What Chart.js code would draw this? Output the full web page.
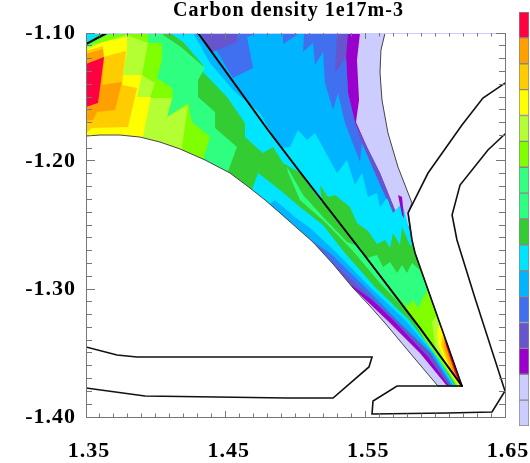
<!DOCTYPE html>
<html><head><meta charset="utf-8">
<style>html,body{margin:0;padding:0;background:#fff;overflow:hidden}
#main{position:absolute;left:0;top:0}#bar{position:absolute;left:518px;top:11px}</style>
<script src="https://cdn.jsdelivr.net/npm/chart.js@4"></script></head>
<body><canvas id="main" width="530" height="463"></canvas><canvas id="bar" width="12" height="416"></canvas>
<script>
const titleText = "Carbon density 1e17m-3";
const xRange = [1.35, 1.65];
const yRange = [-1.40, -1.10];
const levelColors = ["#CCCCFF","#CCCCFF","#9900CC","#6655CC","#4070F0","#00B4FF","#00E5FF","#33CC33","#2EFF80","#33FF80","#80FF00","#B4FF33","#FFFF00","#FFCC00","#FFA000","#FF0040"];

const lavender = [[1.35,-1.10],[1.5677,-1.10],[1.5891,-1.2617],[1.6214,-1.3773],[1.35,-1.3773]];
const purple = [[1.35,-1.10],[1.5462,-1.10],[1.5440,-1.1211],[1.5455,-1.1523],[1.5433,-1.1695],[1.5512,-1.1891],[1.5605,-1.2094],[1.5712,-1.2383],[1.5891,-1.2617],[1.6214,-1.3773],[1.6085,-1.3758],[1.5891,-1.35],[1.5662,-1.325],[1.5412,-1.2992],[1.5319,-1.3086],[1.35,-1.3086]];
const slate = [[1.35,-1.10],[1.5376,-1.10],[1.5362,-1.1188],[1.5376,-1.1469],[1.5426,-1.1695],[1.5512,-1.1891],[1.5605,-1.2094],[1.5712,-1.2383],[1.5891,-1.2617],[1.6214,-1.3773],[1.6099,-1.3758],[1.5949,-1.3531],[1.5698,-1.3242],[1.5548,-1.3086],[1.5369,-1.2945],[1.5247,-1.3047],[1.35,-1.3047]];
const royal = [[1.35,-1.10],[1.5297,-1.10],[1.5283,-1.1313],[1.5362,-1.1188],[1.5376,-1.1469],[1.5426,-1.1703],[1.5483,-1.1891],[1.5584,-1.2125],[1.5698,-1.2406],[1.5891,-1.2617],[1.6214,-1.3773],[1.6110,-1.3758],[1.5963,-1.35],[1.5712,-1.3242],[1.5455,-1.2984],[1.5340,-1.2867],[1.5226,-1.2758],[1.5104,-1.2852],[1.35,-1.2852]];
const sky = [[1.35,-1.10],[1.5061,-1.10],[1.5054,-1.1148],[1.5125,-1.1078],[1.5140,-1.1250],[1.5197,-1.1148],[1.5211,-1.1391],[1.5269,-1.1602],[1.5304,-1.1469],[1.5354,-1.1703],[1.5462,-1.2008],[1.5476,-1.1859],[1.5605,-1.2188],[1.5698,-1.2406],[1.5891,-1.2617],[1.6214,-1.3773],[1.6121,-1.3758],[1.5970,-1.35],[1.5727,-1.3242],[1.5498,-1.2984],[1.5247,-1.2719],[1.5090,-1.2602],[1.4996,-1.2695],[1.35,-1.2695]];
const cyan = [[1.35,-1.10],[1.4266,-1.10],[1.4388,-1.1234],[1.4552,-1.1445],[1.4746,-1.1625],[1.4853,-1.1836],[1.4903,-1.1898],[1.4961,-1.1891],[1.5018,-1.1758],[1.5082,-1.1836],[1.5140,-1.1781],[1.5297,-1.2094],[1.5369,-1.1992],[1.5426,-1.2188],[1.5476,-1.2094],[1.5519,-1.2281],[1.5584,-1.2250],[1.5605,-1.2359],[1.5655,-1.2289],[1.5698,-1.2406],[1.5763,-1.2328],[1.5820,-1.2555],[1.5891,-1.2617],[1.6214,-1.3773],[1.6132,-1.3758],[1.5985,-1.35],[1.5784,-1.3242],[1.5533,-1.2984],[1.5297,-1.2719],[1.5104,-1.2523],[1.4996,-1.2438],[1.4853,-1.2305],[1.4760,-1.2383],[1.35,-1.2383]];
const green = [[1.35,-1.1078],[1.36,-1.1008],[1.4101,-1.10],[1.4195,-1.1070],[1.4338,-1.1250],[1.4338,-1.1305],[1.4510,-1.15],[1.4638,-1.1703],[1.4638,-1.1813],[1.4767,-1.1938],[1.4839,-1.1891],[1.4911,-1.2016],[1.5032,-1.2094],[1.5190,-1.2328],[1.5175,-1.2188],[1.5233,-1.2281],[1.5283,-1.2266],[1.5390,-1.2359],[1.5440,-1.2484],[1.5519,-1.2547],[1.5584,-1.2648],[1.5641,-1.2617],[1.5677,-1.2680],[1.5698,-1.2563],[1.5748,-1.2656],[1.5763,-1.2516],[1.5820,-1.2656],[1.5891,-1.2695],[1.6214,-1.3773],[1.6142,-1.3758],[1.5999,-1.35],[1.5813,-1.3242],[1.5569,-1.2984],[1.5354,-1.2719],[1.5197,-1.25],[1.5032,-1.2359],[1.4889,-1.2227],[1.4732,-1.2094],[1.4674,-1.2266],[1.35,-1.2266]];
const springLeft = [[1.35,-1.1086],[1.365,-1.1008],[1.4051,-1.10],[1.4051,-1.1016],[1.4180,-1.1109],[1.4352,-1.1273],[1.4302,-1.1367],[1.4302,-1.15],[1.4424,-1.1617],[1.4424,-1.1742],[1.4581,-1.1891],[1.4510,-1.2102],[1.4460,-1.2227],[1.35,-1.2227]];
const springRight = [[1.4939,-1.2047],[1.5054,-1.2266],[1.5197,-1.2438],[1.5369,-1.2633],[1.5462,-1.2672],[1.5512,-1.2758],[1.5584,-1.2734],[1.5627,-1.2828],[1.5677,-1.2789],[1.5727,-1.2875],[1.5763,-1.2813],[1.5798,-1.2875],[1.5834,-1.2797],[1.5891,-1.2852],[1.6214,-1.3773],[1.6149,-1.3758],[1.6020,-1.35],[1.5856,-1.3242],[1.5605,-1.2953],[1.5405,-1.2695],[1.5211,-1.2477],[1.5032,-1.2305],[1.4946,-1.2086]];
const limeLeft = [[1.35,-1.1109],[1.365,-1.1016],[1.3944,-1.10],[1.3944,-1.1078],[1.4044,-1.1078],[1.4044,-1.1211],[1.4008,-1.1352],[1.4116,-1.1430],[1.4123,-1.15],[1.4080,-1.1656],[1.4230,-1.1547],[1.4259,-1.1695],[1.4388,-1.1813],[1.4338,-1.1992],[1.4280,-1.2109],[1.35,-1.2109]];
const limeTip = [[1.5770,-1.3063],[1.5806,-1.3133],[1.5841,-1.3086],[1.5877,-1.3148],[1.5913,-1.3070],[1.5949,-1.3008],[1.6035,-1.3086],[1.6214,-1.3773],[1.6156,-1.3758],[1.6020,-1.3539],[1.5927,-1.3398],[1.5806,-1.3180]];
const olive = [[1.35,-1.1109],[1.3622,-1.1070],[1.3794,-1.1016],[1.3944,-1.1078],[1.3901,-1.1328],[1.3994,-1.1391],[1.3958,-1.1508],[1.4116,-1.1508],[1.4080,-1.1656],[1.4230,-1.1563],[1.4187,-1.1891],[1.4209,-1.2031],[1.35,-1.2031]];
const oliveTip = [[1.6164,-1.3758],[1.6063,-1.3586],[1.5999,-1.3438],[1.5977,-1.3258],[1.6006,-1.3211],[1.6214,-1.3773]];
const yellow = [[1.35,-1.1133],[1.3622,-1.1070],[1.3794,-1.1031],[1.3794,-1.1133],[1.3765,-1.1328],[1.3901,-1.1328],[1.3865,-1.15],[1.3965,-1.15],[1.3908,-1.1813],[1.3922,-1.1992],[1.35,-1.1992]];
const yellowTip = [[1.6171,-1.3758],[1.6085,-1.3609],[1.6020,-1.3422],[1.6013,-1.3320],[1.6035,-1.3281],[1.6214,-1.3773]];
const gold = [[1.35,-1.1141],[1.3622,-1.1102],[1.3622,-1.1188],[1.3786,-1.1141],[1.3765,-1.1328],[1.3758,-1.1406],[1.3865,-1.1430],[1.3801,-1.1734],[1.3543,-1.1742],[1.35,-1.1781]];
const goldTip = [[1.6178,-1.3758],[1.6113,-1.3648],[1.6042,-1.3438],[1.6056,-1.3344],[1.6214,-1.3773]];
const orange = [[1.35,-1.1164],[1.3622,-1.1125],[1.3629,-1.1195],[1.3615,-1.1406],[1.3758,-1.1383],[1.3708,-1.1602],[1.3579,-1.1617],[1.3550,-1.1680],[1.35,-1.1688]];
const orangeTip = [[1.6182,-1.3758],[1.6128,-1.3656],[1.6063,-1.3453],[1.6063,-1.3359],[1.6214,-1.3773]];
const red = [[1.35,-1.1242],[1.3629,-1.1188],[1.3586,-1.1547],[1.35,-1.1578]];
const redTip = [[1.6185,-1.3758],[1.6142,-1.3656],[1.6078,-1.3445],[1.6063,-1.3367],[1.6214,-1.3773]];
const royalPatch = [[1.4424,-1.1117],[1.4581,-1.10],[1.4724,-1.10],[1.4653,-1.1031],[1.4696,-1.1273],[1.4552,-1.1352]];
const slatePatch = [[1.4316,-1.10],[1.4581,-1.10],[1.4581,-1.1070],[1.4402,-1.1148]];
const royalCorner = [[1.4911,-1.10],[1.5032,-1.10],[1.4911,-1.1086]];
const purpleSliver = [[1.5734,-1.2266],[1.5763,-1.2281],[1.5777,-1.2445],[1.5763,-1.2422]];
const outside = [[1.35,-1.1805],[1.36,-1.1797],[1.3743,-1.1797],[1.3887,-1.1813],[1.4030,-1.1852],[1.4173,-1.1906],[1.4352,-1.1992],[1.4531,-1.2094],[1.4674,-1.2211],[1.4782,-1.2305],[1.4889,-1.2406],[1.5003,-1.2516],[1.5125,-1.2633],[1.5269,-1.2805],[1.5412,-1.2992],[1.5526,-1.3125],[1.5641,-1.3266],[1.5820,-1.35],[1.6020,-1.3758],[1.6192,-1.3758],[1.5856,-1.2719],[1.5834,-1.2617],[1.5806,-1.2406],[1.5834,-1.2328],[1.5734,-1.2047],[1.5662,-1.1781],[1.5619,-1.1523],[1.5605,-1.1305],[1.5612,-1.1133],[1.5641,-1.10],[1.65,-1.10],[1.65,-1.40],[1.35,-1.40]];

const separatrix = [[1.4302,-1.10],[1.4803,-1.1758],[1.5032,-1.2086],[1.5476,-1.2711],[1.5891,-1.3305],[1.6192,-1.3758]];
const cornerLine = [[1.35,-1.1086],[1.365,-1.10]];
const wallRight = [[1.65,-1.1391],[1.6342,-1.1508],[1.6192,-1.1719],[1.5949,-1.2094],[1.5806,-1.2406],[1.5834,-1.2617],[1.5856,-1.2719],[1.6192,-1.3758],[1.5727,-1.3758],[1.5555,-1.3875],[1.5548,-1.3977],[1.6085,-1.3969],[1.6407,-1.3961],[1.65,-1.3797],[1.6285,-1.3070],[1.6156,-1.2617],[1.6121,-1.2422],[1.6178,-1.2188],[1.6378,-1.1914],[1.65,-1.1789]];
const wallLower = [[1.35,-1.3453],[1.3722,-1.3516],[1.3865,-1.3531],[1.5548,-1.3531],[1.5526,-1.3609],[1.5269,-1.3852],[1.4939,-1.3852],[1.3922,-1.3836],[1.35,-1.3773]];
const domeEdge = outside.slice(0,19);
const outerEdge = outside.slice(18,30);

const fills = [[lavender,"#CCCCFF"],[purple,"#9900CC"],[slate,"#6655CC"],[royal,"#4070F0"],[sky,"#00B4FF"],[cyan,"#00E5FF"],[green,"#33CC33"],[springLeft,"#2EFF80"],[springRight,"#2EFF80"],[limeLeft,"#80FF00"],[limeTip,"#80FF00"],[olive,"#B4FF33"],[oliveTip,"#B4FF33"],[yellow,"#FFFF00"],[yellowTip,"#FFFF00"],[gold,"#FFCC00"],[goldTip,"#FFCC00"],[orange,"#FFA000"],[orangeTip,"#FFA000"],[red,"#FF0040"],[redTip,"#FF0040"],[royalPatch,"#4070F0"],[slatePatch,"#6655CC"],[royalCorner,"#4070F0"],[purpleSliver,"#9900CC"],[outside,"#FFFFFF"]];
const strokes = [[domeEdge,"#444444",1],[outerEdge,"#444444",1],[wallRight,"#111111",1.6],[wallLower,"#111111",1.6],[cornerLine,"#000000",2],[separatrix,"#000000",2]];

const pts = a => a.map(p => ({x:p[0], y:p[1]}));
const total = fills.length + strokes.length;
const datasets = [];
fills.forEach((f,i) => datasets.push({data:pts(f[0]),backgroundColor:f[1],borderWidth:0,fill:'shape',pointRadius:0,tension:0,order:total-i}));
strokes.forEach((s,i) => datasets.push({data:pts(s[0]),borderColor:s[1],borderWidth:s[2],fill:false,pointRadius:0,tension:0,borderCapStyle:'round',order:strokes.length-i}));

const tickFont = {family:"'Liberation Serif'",size:22,weight:'bold'};
function axis(pos, range, step, len, show, size, color, weight){
  const horiz = pos==='bottom'||pos==='top';
  return {type:'linear',position:pos,min:range[0],max:range[1],weight,
    grid:{drawOnChartArea:false,drawTicks:true,tickLength:-len,tickColor:'#777',tickWidth:1},
    border:{display:!!color,color:color||'#777',width:1},
    ticks:{display:show,stepSize:step,autoSkip:false,maxRotation:0,minRotation:0,color:'#000',font:tickFont,
      padding:horiz?(len+21):(len+10),labelOffset:horiz?3:0,callback:v=>show?(+v).toFixed(2):''},
    afterFit(s){ if(horiz) s.height=size; else s.width=size; s.paddingLeft=s.paddingRight=s.paddingTop=s.paddingBottom=0; }};
}
new Chart(document.getElementById('main'),{
  type:'line',
  data:{datasets},
  options:{responsive:false,animation:false,events:[],
    layout:{autoPadding:false,padding:{right:25}},
    plugins:{legend:{display:false},tooltip:{enabled:false},
      title:{display:true,text:titleText,color:'#000',font:{family:"'Liberation Serif'",size:20,weight:'bold',lineHeight:1.2},padding:{top:0,bottom:9}}},
    scales:{
      x:axis('bottom',xRange,0.1,6,true,46,'#777',1),
      xMinor:axis('bottom',xRange,0.01,3.5,false,0,null,0),
      xTop:axis('top',xRange,0.1,6,false,0,'#CCCCFF',1),
      xTopMinor:axis('top',xRange,0.01,3.5,false,0,null,0),
      y:axis('left',yRange,0.1,9,true,86,'#777',1),
      yMinor:axis('left',yRange,0.01,6,false,0,null,0),
      yRight:axis('right',yRange,0.1,9,false,0,'#777',1),
      yRightMinor:axis('right',yRange,0.01,6,false,0,null,0)
    }},
  plugins:[{id:'place',
    afterLayout(c){ c.titleBlock.left=47; c.titleBlock.right=530; c.titleBlock.top=-1.5; },
    beforeDraw(c){ c.ctx.letterSpacing='1px'; },
    afterDatasetsDraw(c){ Object.values(c.scales).forEach(s=>{ s.drawGrid(c.chartArea); s.drawBorder(); }); }}]
});

new Chart(document.getElementById('bar'),{
  type:'bar',
  data:{labels:[''],datasets:levelColors.map(c=>({data:[1],backgroundColor:c,borderColor:'#888',borderWidth:1,borderSkipped:false,barPercentage:1,categoryPercentage:1,stack:'s'}))},
  options:{responsive:false,animation:false,events:[],
    layout:{autoPadding:false,padding:{left:1,right:1,top:1,bottom:1}},
    plugins:{legend:{display:false},tooltip:{enabled:false},title:{display:false}},
    scales:{x:{display:false,stacked:true},y:{display:false,stacked:true,min:0,max:levelColors.length}}}
});
</script></body></html>
